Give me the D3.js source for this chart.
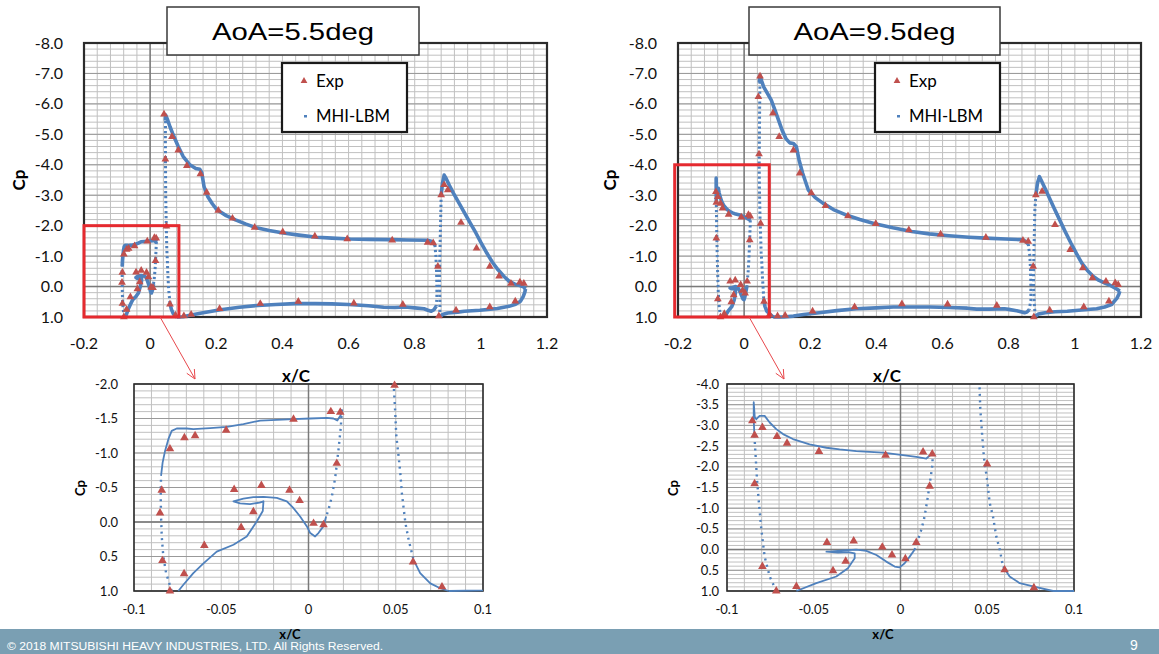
<!DOCTYPE html>
<html><head><meta charset="utf-8">
<script src="https://cdn.jsdelivr.net/npm/d3@7"></script>
<style>body{margin:0;background:#fff;} svg{display:block;}</style>
</head><body><svg id="c" width="1159" height="654"></svg>
<script>
// ---------------- DATA ----------------
const xTicksMain = [-0.2, 0, 0.2, 0.4, 0.6, 0.8, 1, 1.2];
const yTicksMain = [-8, -7, -6, -5, -4, -3, -2, -1, 0, 1];
const xTicksInset = [-0.1, -0.05, 0, 0.05, 0.1];
const yTicksInset55 = [-2, -1.5, -1, -0.5, 0, 0.5, 1];
const yTicksInset95 = [-4, -3.5, -3, -2.5, -2, -1.5, -1, -0.5, 0, 0.5, 1];
const titles = ["AoA=5.5deg", "AoA=9.5deg"];
const legendLabels = ["Exp", "MHI-LBM"];

// ---- AoA = 5.5 deg : MHI-LBM ----
const lbm55SlatOuter = [[-0.0784,1.0],[-0.0816,0.74],[-0.0832,0.5],[-0.0841,0.21],[-0.0845,-0.08],[-0.0847,-0.37],[-0.0845,-0.67]];
const lbm55SlatUpper = [[-0.0845,-0.67],[-0.0836,-0.86],[-0.0822,-1.03],[-0.0803,-1.2],[-0.0784,-1.32],[-0.0755,-1.355],[-0.0698,-1.355],[-0.066,-1.345],[-0.0564,-1.36],[-0.0468,-1.38],[-0.0373,-1.42],[-0.0277,-1.47],[-0.0182,-1.48],[-0.0086,-1.49],[0.001,-1.50],[0.0105,-1.51],[0.0143,-1.50],[0.0165,-1.47],[0.0185,-1.55],[0.0191,-1.63]];
const lbm55SlatTE = [[0.0191,-1.63],[0.0185,-1.37],[0.0172,-1.05],[0.0153,-0.64],[0.0134,-0.37],[0.0115,-0.18],[0.0101,-0.08]];
const lbm55SlatCove = [[0.0101,-0.08],[0.0086,0.06],[0.0057,0.16],[0.0038,0.21],[0.001,0.16],[-0.001,0.06],[-0.0048,-0.08],[-0.0086,-0.2],[-0.0124,-0.30],[-0.0182,-0.35],[-0.0258,-0.364],[-0.0316,-0.36],[-0.0373,-0.34],[-0.043,-0.30],[-0.0392,-0.27],[-0.0335,-0.26],[-0.028,-0.28],[-0.0258,-0.30],[-0.0262,-0.16],[-0.0296,-0.01],[-0.0354,0.21],[-0.043,0.33],[-0.0526,0.43],[-0.0602,0.6],[-0.066,0.74],[-0.0717,0.91],[-0.0746,1.0]];
const lbm55MainLE = [[0.047,-5.6],[0.046,-5.0],[0.0465,-4.0],[0.047,-3.0],[0.0488,-2.0],[0.0497,-1.59],[0.0503,-1.25],[0.0516,-0.96],[0.0526,-0.71],[0.0535,-0.42],[0.0555,0.01],[0.0574,0.26],[0.0602,0.55]];
const lbm55MainNose = [[0.0602,0.55],[0.064,0.74],[0.0698,0.89],[0.0755,0.96],[0.0803,1.0]];
const lbm55MainUpper = [[0.046,-5.45],[0.047,-5.63],[0.052,-5.5],[0.06,-5.25],[0.068,-5.03],[0.085,-4.6],[0.10,-4.27],[0.12,-4.0],[0.138,-3.88],[0.150,-3.85],[0.156,-3.75],[0.163,-3.28],[0.174,-2.96],[0.188,-2.72],[0.202,-2.52],[0.23,-2.33],[0.258,-2.19],[0.29,-2.05],[0.325,-1.92],[0.36,-1.84],[0.403,-1.76],[0.45,-1.69],[0.504,-1.62],[0.55,-1.59],[0.605,-1.56],[0.66,-1.55],[0.727,-1.54],[0.78,-1.53],[0.839,-1.52],[0.852,-1.48],[0.861,-1.37]];
const lbm55MainTE = [[0.861,-1.37],[0.864,-1.0],[0.866,-0.5],[0.867,0.0],[0.867,0.4],[0.865,0.65]];
const lbm55MainLower = [[0.865,0.65],[0.858,0.76],[0.85,0.81],[0.84,0.78],[0.828,0.73],[0.80,0.70],[0.772,0.67],[0.74,0.69],[0.706,0.68],[0.66,0.63],[0.60,0.59],[0.549,0.57],[0.50,0.56],[0.437,0.56],[0.38,0.59],[0.325,0.62],[0.27,0.68],[0.213,0.76],[0.16,0.86],[0.12,0.94],[0.10,0.99],[0.0803,1.0]];
const lbm55FlapLE = [[0.876,1.0],[0.876,0.5],[0.875,0.0],[0.875,-0.5],[0.876,-1.0],[0.877,-1.5],[0.878,-2.0],[0.879,-2.5],[0.88,-3.0]];
const lbm55FlapUpper = [[0.88,-3.0],[0.884,-3.4],[0.889,-3.66],[0.895,-3.55],[0.905,-3.32],[0.917,-3.07],[0.934,-2.74],[0.951,-2.41],[0.968,-2.08],[0.985,-1.76],[1.0,-1.45],[1.018,-1.10],[1.035,-0.80],[1.052,-0.55],[1.07,-0.33],[1.086,-0.17],[1.103,-0.08],[1.12,-0.03],[1.13,0.02],[1.135,0.08]];
const lbm55FlapLower = [[1.135,0.08],[1.133,0.18],[1.128,0.33],[1.12,0.48],[1.105,0.58],[1.085,0.65],[1.05,0.72],[0.997,0.78],[0.95,0.81],[0.93,0.84],[0.90,0.87],[0.884,0.92],[0.876,1.0]];

// ---- AoA = 5.5 deg : Exp ----
const exp55 = [[-0.0794,1.0],[-0.0837,0.56],[-0.0851,-0.13],[-0.0841,-0.46],[-0.0794,-1.06],[-0.0711,-1.22],[-0.065,-1.25],[-0.0472,-1.33],[-0.0086,-1.49],[0.0128,-1.60],[0.0182,-1.59],[0.0162,-0.85],[0.0086,0.04],[0.0029,0.02],[-0.0051,-0.31],[-0.0109,-0.46],[-0.027,-0.53],[-0.0426,-0.47],[-0.0316,-0.15],[-0.0386,0.08],[-0.0597,0.34],[-0.0713,0.75],
 [0.0493,-1.98],[0.0599,0.58],[0.0765,0.94],[0.042,-5.66],[0.046,-4.18],[0.066,-4.92],[0.085,-4.48],[0.111,-3.97],[0.152,-3.70],[0.171,-3.09],[0.206,-2.50],[0.249,-2.24],[0.316,-1.94],[0.401,-1.79],[0.498,-1.65],[0.596,-1.56],[0.732,-1.52],[0.839,-1.45],[0.856,-1.43],[0.870,-0.66],[0.873,0.97],[0.880,-3.01],[0.889,-3.34],[0.900,-3.17],[0.940,-2.10],[0.987,-1.26],[1.027,-0.66],[1.055,-0.34],[1.091,-0.10],[1.118,-0.14],[1.13,-0.10],[1.104,0.48],[1.027,0.67],[0.925,0.78],[0.764,0.59],[0.616,0.55],[0.448,0.49],[0.333,0.56],[0.210,0.73],[0.124,0.92],[0.102,0.97]];

// ---- AoA = 9.5 deg : MHI-LBM ----
const lbm95SlatOuter = [[-0.0716,1.0],[-0.0754,0.65],[-0.0783,0.17],[-0.0802,-0.48],[-0.0816,-1.13],[-0.0827,-1.69],[-0.0835,-2.26],[-0.0842,-2.75]];
const lbm95SlatUpper = [[-0.0842,-2.75],[-0.0846,-3.15],[-0.0846,-3.56],[-0.0840,-3.2],[-0.0831,-3.15],[-0.0812,-3.23],[-0.0783,-3.23],[-0.0754,-3.07],[-0.0716,-2.91],[-0.0677,-2.79],[-0.062,-2.67],[-0.0524,-2.54],[-0.0427,-2.46],[-0.0351,-2.42],[-0.0255,-2.38],[-0.0101,-2.34],[0.0014,-2.28],[0.0091,-2.24],[0.0149,-2.20],[0.0187,-2.34]];
const lbm95SlatTE = [[0.0187,-2.34],[0.0183,-2.02],[0.0172,-1.69],[0.0158,-1.29],[0.0139,-0.80],[0.012,-0.48],[0.0101,-0.24],[0.0082,0.0]];
const lbm95SlatCove = [[0.0082,0.0],[0.0053,0.17],[0.0024,0.33],[-0.0005,0.43],[-0.0034,0.41],[-0.0082,0.29],[-0.0139,0.13],[-0.0197,0.03],[-0.0255,0.0],[-0.0331,0.02],[-0.0408,0.05],[-0.0427,0.05],[-0.036,0.07],[-0.030,0.06],[-0.0264,0.09],[-0.0264,0.21],[-0.0303,0.45],[-0.037,0.65],[-0.0485,0.81],[-0.06,1.0]];
const lbm95MainLE = [[0.048,-6.9],[0.047,-6.0],[0.0462,-5.0],[0.0455,-4.0],[0.046,-3.39],[0.0471,-2.75],[0.0481,-2.22],[0.0499,-1.69],[0.0514,-1.13],[0.0533,-0.80],[0.0552,-0.32],[0.0572,0.0],[0.0591,0.41]];
const lbm95MainNose = [[0.0591,0.41],[0.0629,0.65],[0.0687,0.81],[0.0764,0.89],[0.0879,1.0]];
const lbm95MainUpper = [[0.046,-6.7],[0.048,-6.94],[0.053,-6.75],[0.059,-6.56],[0.07,-6.35],[0.082,-6.12],[0.093,-5.8],[0.104,-5.47],[0.115,-5.13],[0.127,-4.85],[0.138,-4.72],[0.149,-4.70],[0.158,-4.59],[0.166,-4.16],[0.177,-3.72],[0.194,-3.17],[0.215,-2.92],[0.238,-2.74],[0.27,-2.53],[0.306,-2.36],[0.35,-2.2],[0.395,-2.06],[0.45,-1.93],[0.507,-1.81],[0.56,-1.73],[0.619,-1.67],[0.68,-1.62],[0.731,-1.59],[0.79,-1.56],[0.843,-1.54],[0.852,-1.48],[0.859,-1.40]];
const lbm95MainTE = [[0.859,-1.40],[0.864,-1.0],[0.866,-0.5],[0.867,0.0],[0.867,0.45],[0.862,0.76]];
const lbm95MainLower = [[0.862,0.76],[0.855,0.84],[0.848,0.86],[0.831,0.81],[0.80,0.75],[0.787,0.73],[0.74,0.74],[0.703,0.74],[0.675,0.71],[0.62,0.69],[0.563,0.67],[0.50,0.67],[0.451,0.67],[0.40,0.70],[0.339,0.73],[0.28,0.79],[0.227,0.86],[0.18,0.92],[0.149,0.97],[0.12,1.0],[0.0879,1.0]];
const lbm95FlapLE = [[0.88,0.97],[0.877,0.5],[0.875,0.0],[0.875,-0.5],[0.876,-1.0],[0.877,-1.5],[0.878,-2.0],[0.879,-2.5],[0.882,-3.0]];
const lbm95FlapUpper = [[0.882,-3.0],[0.887,-3.4],[0.893,-3.61],[0.900,-3.45],[0.910,-3.22],[0.921,-2.96],[0.937,-2.58],[0.954,-2.19],[0.971,-1.80],[0.988,-1.43],[1.005,-1.08],[1.021,-0.77],[1.038,-0.53],[1.055,-0.34],[1.072,-0.21],[1.089,-0.12],[1.105,-0.05],[1.122,0.05],[1.136,0.15]];
const lbm95FlapLower = [[1.136,0.15],[1.133,0.25],[1.128,0.37],[1.111,0.59],[1.09,0.67],[1.066,0.73],[1.02,0.77],[0.977,0.81],[0.94,0.83],[0.910,0.86],[0.89,0.90],[0.882,0.97]];

// ---- AoA = 9.5 deg : Exp ----
const exp95 = [[-0.0854,-3.11],[-0.0841,-2.76],[-0.0796,-2.95],[-0.0712,-2.73],[-0.0654,-2.57],[-0.047,-2.37],[-0.0086,-2.28],[0.013,-2.36],[0.0183,-2.31],[0.0168,-1.53],[0.0091,-0.17],[0.0028,0.22],[-0.0049,0.13],[-0.0105,-0.06],[-0.027,-0.21],[-0.0424,-0.17],[-0.0316,0.28],[-0.0389,0.51],[-0.06,0.89],[-0.0716,1.0],[-0.0796,0.41],[-0.0841,-1.59],
 [0.0499,-2.07],[0.06,0.49],[0.0769,0.92],[0.048,-6.91],[0.043,-6.23],[0.045,-4.35],[0.087,-5.69],[0.106,-4.92],[0.149,-4.48],[0.168,-3.72],[0.203,-3.07],[0.246,-2.65],[0.314,-2.32],[0.398,-2.06],[0.498,-1.86],[0.594,-1.72],[0.731,-1.61],[0.843,-1.51],[0.859,-1.48],[0.874,-0.66],[0.876,1.0],[0.882,-3.01],[0.901,-3.12],[0.940,-2.03],[0.986,-1.21],[1.024,-0.61],[1.053,-0.28],[1.094,-0.17],[1.122,-0.12],[1.131,-0.06],[1.103,0.48],[1.027,0.67],[0.924,0.78],[0.764,0.62],[0.615,0.58],[0.477,0.57],[0.334,0.67],[0.207,0.81],[0.124,0.95],[0.101,0.97]];

// zoom-box extents (data units) drawn on the main charts
const zoomBox55 = [[-0.2, 0.087], [-2.0, 1.0]];
const zoomBox95 = [[-0.21, 0.076], [-4.0, 1.0]];

// ---------------- DRAWING ----------------
const BLUE = '#4f81bd', RED = '#c0504d';
const svg = d3.select('#c');
const defs = svg.append('defs');

const segs55 = [
  {p: lbm55SlatOuter, dot: true}, {p: lbm55SlatUpper, dot: false}, {p: lbm55SlatTE, dot: true}, {p: lbm55SlatCove, dot: false},
  {p: lbm55MainLE, dot: true}, {p: lbm55MainNose, dot: false}, {p: lbm55MainUpper, dot: false}, {p: lbm55MainTE, dot: true},
  {p: lbm55MainLower, dot: false}, {p: lbm55FlapLE, dot: true}, {p: lbm55FlapUpper, dot: false}, {p: lbm55FlapLower, dot: false}];
const segs95 = [
  {p: lbm95SlatOuter, dot: true}, {p: lbm95SlatUpper, dot: false}, {p: lbm95SlatTE, dot: true}, {p: lbm95SlatCove, dot: false},
  {p: lbm95MainLE, dot: true}, {p: lbm95MainNose, dot: false}, {p: lbm95MainUpper, dot: false}, {p: lbm95MainTE, dot: true},
  {p: lbm95MainLower, dot: false}, {p: lbm95FlapLE, dot: true}, {p: lbm95FlapUpper, dot: false}, {p: lbm95FlapLower, dot: false}];

let clipId = 0;
function panel(c){
  const xs = d3.scaleLinear().domain(c.xd).range(c.xr);
  const ys = d3.scaleLinear().domain(c.yd).range(c.yr);
  const [X0, X1] = c.xr, [Y0, Y1] = c.yr;
  const g = svg.append('g');
  g.append('rect').attr('x', X0).attr('y', Y0).attr('width', X1 - X0).attr('height', Y1 - Y0).attr('fill', '#fff');
  const eps = 1e-9;
  const vMinor = d3.range(c.xd[0], c.xd[1] + eps, c.xMinor);
  const hMinor = d3.range(c.yd[0], c.yd[1] + eps, c.yMinor);
  const hMajor = d3.range(c.yd[0], c.yd[1] + eps, c.yMajor);
  g.selectAll(null).data(vMinor).enter().append('line')
    .attr('x1', d => xs(d)).attr('x2', d => xs(d)).attr('y1', Y0).attr('y2', Y1)
    .attr('stroke', '#c0c0c0').attr('stroke-width', 1);
  g.selectAll(null).data(hMinor).enter().append('line')
    .attr('y1', d => ys(d)).attr('y2', d => ys(d)).attr('x1', X0).attr('x2', X1)
    .attr('stroke', '#c0c0c0').attr('stroke-width', 1);
  g.selectAll(null).data(hMajor).enter().append('line')
    .attr('y1', d => ys(d)).attr('y2', d => ys(d)).attr('x1', X0).attr('x2', X1)
    .attr('stroke', '#999', ).attr('stroke-width', 1);
  // zero axes
  g.append('line').attr('x1', xs(0)).attr('x2', xs(0)).attr('y1', Y0).attr('y2', Y1).attr('stroke', '#7a7a7a').attr('stroke-width', 1.5);
  g.append('line').attr('y1', ys(0)).attr('y2', ys(0)).attr('x1', X0).attr('x2', X1).attr('stroke', '#7a7a7a').attr('stroke-width', 1.5);
  // frame
  g.append('rect').attr('x', X0).attr('y', Y0).attr('width', X1 - X0).attr('height', Y1 - Y0)
    .attr('fill', 'none').attr('stroke', '#2b2b2b').attr('stroke-width', c.frame);

  // tick labels
  g.selectAll(null).data(c.yTicks).enter().append('text')
    .attr('x', c.yLabX).attr('y', d => ys(d)).attr('dy', '0.35em').attr('text-anchor', 'end')
    .attr('font-family', 'Lato, sans-serif').attr('font-size', c.tickFs).attr('fill', '#111')
    .text(d => d.toFixed(1));
  g.selectAll(null).data(c.xTicks).enter().append('text')
    .attr('x', d => xs(d)).attr('y', c.xLabY).attr('text-anchor', 'middle')
    .attr('font-family', 'Lato, sans-serif').attr('font-size', c.tickFs).attr('fill', '#111')
    .text(d => String(d));
  // axis titles
  g.append('text').attr('transform', `translate(${c.cpX},${c.cpY}) rotate(-90)`).attr('text-anchor', 'middle')
    .attr('dy', '0.35em').attr('font-family', 'Lato, sans-serif').attr('font-weight', 'bold').attr('font-size', c.titleFs).text('Cp');
  g.append('text').attr('x', c.xtX).attr('y', c.xtY).attr('text-anchor', 'middle')
    .attr('font-family', 'Lato, sans-serif').attr('font-weight', 'bold').attr('font-size', c.titleFs).text('x/C');

  // data
  const cid = 'clip' + (clipId++);
  defs.append('clipPath').attr('id', cid).append('rect')
    .attr('x', X0).attr('y', Y0 - 1).attr('width', X1 - X0).attr('height', Y1 - Y0 + 2);
  const dg = g.append('g').attr('clip-path', c.clip ? `url(#${cid})` : null);
  const line = d3.line().x(d => xs(d[0])).y(d => ys(d[1]));
  dg.selectAll(null).data(c.segs).enter().append('path')
    .attr('d', d => line(d.p)).attr('fill', 'none').attr('stroke', BLUE)
    .attr('stroke-width', d => d.dot ? c.dotW : c.solidW)
    .attr('stroke-dasharray', d => d.dot ? c.dash : null)
    .attr('stroke-linejoin', 'round');
  const expPts = c.exp.filter(d => d[0] >= c.xd[0] && d[0] < c.xd[1] - 0.0005 && d[1] >= c.yd[0] - 0.05 && d[1] <= c.yd[1] + 0.05);
  g.selectAll(null).data(expPts).enter().append('path')
    .attr('d', d3.symbol(d3.symbolTriangle, c.triSize))
    .attr('transform', d => `translate(${xs(d[0])},${ys(d[1])})`)
    .attr('fill', RED);
  return {xs, ys, g};
}

function mainChart(xr, cpX, yLabX, xtX, exp, sg, title, titleBox, legendX, box, arrowStart, arrowEnd){
  const p = panel({xd: [-0.2, 1.2], yd: [-8, 1], xr: xr, yr: [43, 317], xMinor: 0.04, yMinor: 0.2, yMajor: 1,
    xTicks: xTicksMain, yTicks: yTicksMain, yLabX: yLabX, xLabY: 349, tickFs: 16, titleFs: 17,
    cpX: cpX, cpY: 180, xtX: xtX, xtY: 382, frame: 2.2, segs: sg, exp: exp, triSize: 26,
    solidW: 3.6, dotW: 3, dash: '2.2,2.8', clip: false});
  // zoom box
  const bx0 = p.xs(box[0][0]), bx1 = p.xs(box[0][1]), by0 = p.ys(box[1][0]), by1 = p.ys(box[1][1]);
  p.g.append('rect').attr('x', bx0).attr('y', by0).attr('width', bx1 - bx0).attr('height', by1 - by0)
    .attr('fill', 'none').attr('stroke', '#e52a2f').attr('stroke-width', 3);
  // arrow
  const sx = p.xs(arrowStart[0]), sy = p.ys(arrowStart[1]);
  p.g.append('line').attr('x1', sx).attr('y1', sy).attr('x2', arrowEnd[0]).attr('y2', arrowEnd[1])
    .attr('stroke', '#e8484c').attr('stroke-width', 1);
  const ang = Math.atan2(arrowEnd[1] - sy, arrowEnd[0] - sx);
  [0.45, -0.45].forEach(a => {
    p.g.append('line').attr('x1', arrowEnd[0]).attr('y1', arrowEnd[1])
      .attr('x2', arrowEnd[0] - 10 * Math.cos(ang + a)).attr('y2', arrowEnd[1] - 10 * Math.sin(ang + a))
      .attr('stroke', '#e8484c').attr('stroke-width', 1);
  });
  // title box
  p.g.append('rect').attr('x', titleBox[0]).attr('y', 7).attr('width', titleBox[1] - titleBox[0]).attr('height', 48)
    .attr('fill', '#fff').attr('stroke', '#3a3a3a').attr('stroke-width', 1.5);
  p.g.append('text').attr('x', (titleBox[0] + titleBox[1]) / 2 - 81).attr('y', 40)
    .attr('font-family', '"Liberation Sans", Arial, sans-serif').attr('font-size', 24)
    .attr('textLength', 162).attr('lengthAdjust', 'spacingAndGlyphs').text(title);
  // legend
  const lg = p.g.append('g');
  lg.append('rect').attr('x', legendX).attr('y', 63).attr('width', 125).attr('height', 69)
    .attr('fill', '#fff').attr('stroke', '#1a1a1a').attr('stroke-width', 2.2);
  lg.append('path').attr('d', d3.symbol(d3.symbolTriangle, 20)).attr('transform', `translate(${legendX + 22},${81})`).attr('fill', RED);
  lg.append('rect').attr('x', legendX + 22).attr('y', 115).attr('width', 3).attr('height', 2.5).attr('fill', BLUE);
  lg.append('text').attr('x', legendX + 34).attr('y', 87).attr('font-family', 'Lato, sans-serif').attr('font-size', 17).text(legendLabels[0]);
  lg.append('text').attr('x', legendX + 34).attr('y', 122).attr('font-family', 'Lato, sans-serif').attr('font-size', 17)
    .attr('textLength', 74).attr('lengthAdjust', 'spacingAndGlyphs').text(legendLabels[1]);
}

function inset(xr, yd, yTicks, yMinor, cpX, yLabX, xtX, exp, sg){
  panel({xd: [-0.1, 0.1], yd: yd, xr: xr, yr: [384, 591], xMinor: 0.01, yMinor: yMinor, yMajor: 0.5,
    xTicks: xTicksInset, yTicks: yTicks, yLabX: yLabX, xLabY: 614, tickFs: 13, titleFs: 13,
    cpX: cpX, cpY: 488, xtX: xtX, xtY: 639, frame: 1.6, segs: sg, exp: exp, triSize: 32,
    solidW: 1.8, dotW: 2.4, dash: '2,4.5', clip: true});
}

// footer bar (drawn first so inset x-titles sit on it)
svg.append('rect').attr('x', 0).attr('y', 629).attr('width', 1159).attr('height', 25).attr('fill', '#7a9fb3');
svg.append('text').attr('x', 7).attr('y', 650).attr('fill', '#fff').attr('font-family', '"Liberation Sans", Arial, sans-serif')
  .attr('font-size', 10).attr('textLength', 376).attr('lengthAdjust', 'spacingAndGlyphs')
  .text('\u00A9 2018 MITSUBISHI HEAVY INDUSTRIES, LTD.  All Rights Reserved.');
svg.append('text').attr('x', 1130).attr('y', 650).attr('fill', '#fff').attr('font-family', '"Liberation Sans", Arial, sans-serif')
  .attr('font-size', 14).text('9');

mainChart([84, 547], 19, 63, 296, exp55, segs55, titles[0], [167, 419], 282, zoomBox55, [0.03, 1.0], [195, 379]);
mainChart([678, 1141], 610, 657, 887, exp95, segs95, titles[1], [749, 1000], 875, zoomBox95, [0.015, 1.0], [784, 379]);
inset([134, 483], [-2, 1], yTicksInset55, 0.1, 80, 118, 290, exp55, segs55);
inset([727, 1074], [-4, 1], yTicksInset95, 0.1, 673, 719, 883, exp95, segs95);
</script></body></html>
